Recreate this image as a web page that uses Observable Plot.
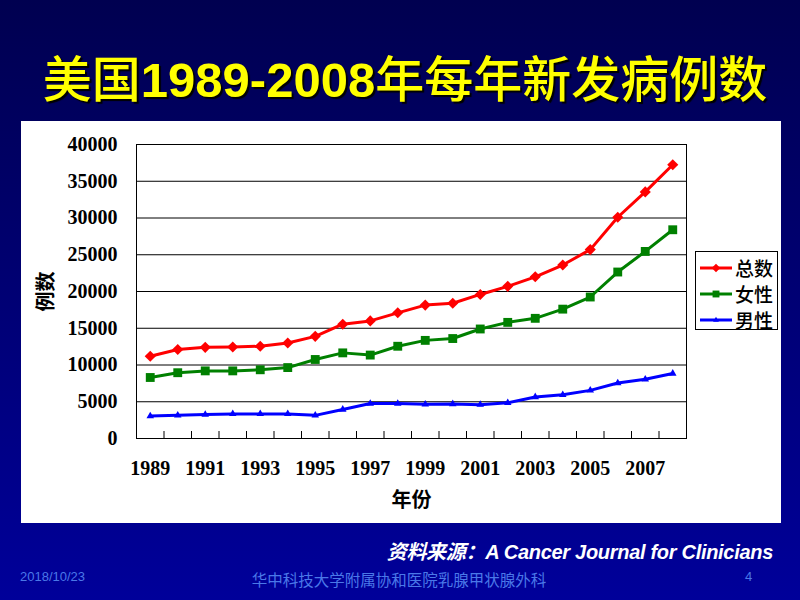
<!DOCTYPE html>
<html><head><meta charset="utf-8">
<script src="https://cdn.jsdelivr.net/npm/d3@7"></script>
<script src="https://cdn.jsdelivr.net/npm/@observablehq/plot@0.6"></script>
<style>
html,body{margin:0;padding:0;}
body{width:800px;height:600px;overflow:hidden;position:relative;background:linear-gradient(to bottom,#000050 0%,#000078 55%,#00009a 100%);font-family:"Liberation Sans","Noto Sans CJK SC",sans-serif;}
#title{position:absolute;left:0;width:810px;top:46px;height:60px;line-height:60px;text-align:center;color:#ffff00;font-size:49px;font-weight:500;text-shadow:2px 2px 1px #000;white-space:nowrap;font-family:"Noto Sans CJK SC",sans-serif;}
#title b{font-family:"Liberation Sans",sans-serif;font-weight:bold;}
#panel{position:absolute;left:21px;top:121px;width:760px;height:402px;background:#fff;}
#chart{position:absolute;left:0;top:0;}
#legend{position:absolute;left:674px;top:130px;width:83px;height:79px;border:1px solid #000;background:#fff;box-sizing:border-box;padding-top:3px;}
.lrow{height:26px;display:flex;align-items:center;padding-left:4px;}
.lrow span{font-family:"Noto Sans CJK SC",sans-serif;font-size:19px;font-weight:500;margin-left:3px;line-height:26px;}
#source{position:absolute;right:27px;top:536px;color:#fff;font-weight:bold;font-style:italic;font-size:20px;white-space:nowrap;letter-spacing:-0.3px;}
#date{position:absolute;left:20px;top:569px;color:#4a78e8;font-size:13px;}
#org{position:absolute;left:0;width:798px;text-align:center;top:568px;color:#4a78e8;font-size:15.5px;font-family:"Noto Sans CJK SC",sans-serif;}
#page{position:absolute;left:745px;top:569px;color:#4a78e8;font-size:13px;}
</style>
</head><body>
<div id="title">美国<b>1989-2008</b>年每年新发病例数</div>
<div id="panel"><div id="chart"></div><div id="legend"></div></div>
<div id="source">资料来源：A Cancer Journal for Clinicians</div>
<div id="date">2018/10/23</div>
<div id="org">华中科技大学附属协和医院乳腺甲状腺外科</div>
<div id="page">4</div>
<script>
const years = [1989,1990,1991,1992,1993,1994,1995,1996,1997,1998,1999,2000,2001,2002,2003,2004,2005,2006,2007,2008];
const total = [11200,12100,12400,12450,12550,13000,13900,15550,16000,17100,18150,18400,19600,20700,22000,23600,25700,30100,33550,37250];
const female = [8300,8950,9200,9200,9350,9650,10750,11650,11350,12550,13350,13600,14900,15800,16350,17600,19250,22650,25450,28400];
const male = [3050,3150,3250,3350,3350,3350,3150,3950,4750,4750,4650,4700,4600,4850,5650,5950,6550,7550,8050,8850];
const seriesNames = ["总数","女性","男性"];
const seriesColors = ["#ff0000","#008000","#0000ff"];
const seriesSymbols = ["diamond2","square","triangle"];
const seriesR = [5,5,2.8];
const yTicks = [0,5000,10000,15000,20000,25000,30000,35000,40000];
const xLabelTicks = [1989,1991,1993,1995,1997,1999,2001,2003,2005,2007];
const xAxisTitle = "年份";
const yAxisTitle = "例数";

const valuesBySeries = [total, female, male];
const rows = [];
seriesNames.forEach((s, k) => years.forEach((y, i) => rows.push({year: y, series: s, value: valuesBySeries[k][i]})));
const boundaries = years.slice(0, -1).map(y => y + 0.5);

const W = 760, H = 402, mT = 23, mB = 85;
const marks = [
  Plot.gridY(yTicks, {stroke: "#000", strokeOpacity: 1, strokeWidth: 1}),
  Plot.frame({stroke: "#000", strokeWidth: 1}),
  Plot.tickX(boundaries, {x: d => d, stroke: "#000", insetTop: (H - mT - mB) - 7}),
  Plot.axisY(yTicks, {tickSize: 0, tickPadding: 19, tickFormat: d => String(d), label: yAxisTitle, labelAnchor: "center", labelOffset: 98, labelArrow: "none"}),
  Plot.axisX(xLabelTicks, {tickSize: 0, tickPadding: 22, tickFormat: d => String(d), label: xAxisTitle, labelAnchor: "center", labelOffset: 68, labelArrow: "none"})
];
seriesNames.forEach((s, k) => {
  marks.push(Plot.line(rows, {filter: d => d.series === s, x: "year", y: "value", stroke: seriesColors[k], strokeWidth: 3}));
  marks.push(Plot.dot(rows, {filter: d => d.series === s, x: "year", y: "value", symbol: seriesSymbols[k], r: seriesR[k], fill: seriesColors[k], stroke: "none"}));
});

const chart = Plot.plot({
  width: W, height: H,
  marginLeft: 115, marginRight: 95, marginTop: mT, marginBottom: mB,
  style: {fontFamily: '"Liberation Serif","Noto Sans CJK SC",serif', fontSize: "20px", fontWeight: "bold", color: "#000", background: "transparent", overflow: "visible"},
  x: {domain: [1988.5, 2008.5]},
  y: {domain: [0, 40000]},
  marks
});
document.getElementById("chart").appendChild(chart);

// legend
const leg = document.getElementById("legend");
seriesNames.forEach((s, k) => {
  const row = document.createElement("div");
  row.className = "lrow";
  const svg = d3.create("svg").attr("width", 32).attr("height", 12);
  svg.append("line").attr("x1", 0).attr("x2", 32).attr("y1", 6).attr("y2", 6).attr("stroke", seriesColors[k]).attr("stroke-width", 3);
  const symMap = {diamond2: d3.symbolDiamond2, square: d3.symbolSquare, triangle: d3.symbolTriangle};
  const size = seriesR[k] * seriesR[k] * Math.PI * 0.6;
  svg.append("path").attr("transform", "translate(16,6)").attr("d", d3.symbol(symMap[seriesSymbols[k]], size)()).attr("fill", seriesColors[k]);
  row.appendChild(svg.node());
  const t = document.createElement("span");
  t.textContent = s;
  row.appendChild(t);
  leg.appendChild(row);
});
</script>
</body></html>
